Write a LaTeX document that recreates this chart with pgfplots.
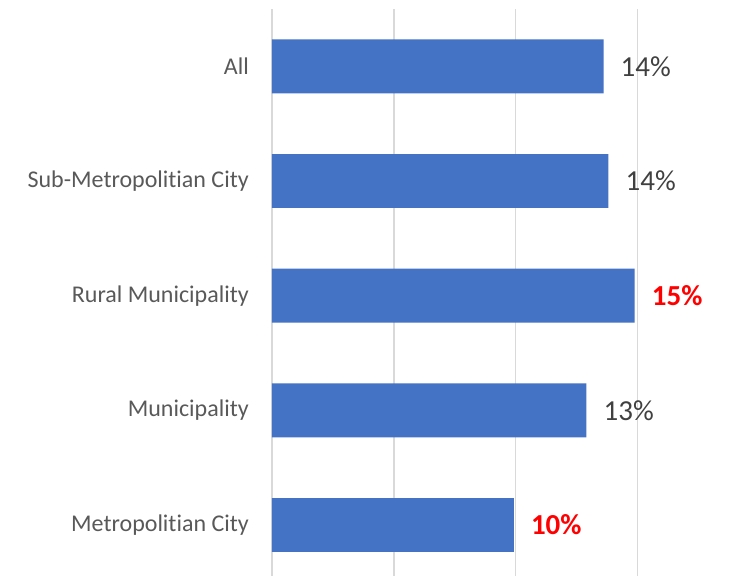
\documentclass[border=0pt]{standalone}
\usepackage{pgfplots}
\pgfplotsset{compat=1.18}
\usepackage{fontspec}
\setmainfont{Carlito}[Ligatures=NoCommon]
\definecolor{barblue}{HTML}{4472C4}
\definecolor{gridgray}{HTML}{D9D9D9}
\definecolor{catgray}{HTML}{595959}
\definecolor{lblgray}{HTML}{404040}
\begin{document}
\begin{tikzpicture}
\begin{axis}[
  scale only axis,
  width=469pt, height=567pt,
  xmin=0, xmax=19.24,
  ymin=-0.445, ymax=4.5,
  axis line style={draw=none},
  xtick={0,5,10,15}, xticklabels={},
  xmajorgrids, grid style={gridgray, line width=1.3pt},
  ytick={0,1,2,3,4},
  yticklabels={Metropolitian City, Municipality, Rural Municipality, Sub-Metropolitian City, All},
  major tick length=0pt,
  tick style={draw=none},
  yticklabel style={font=\fontsize{24}{28}\selectfont, text=catgray, inner sep=0pt, anchor=east, xshift=-23pt},
  xbar, bar width=0.47, bar shift=0pt,
  point meta=explicit symbolic,
  nodes near coords,
  clip=false,
]
\addplot[fill=barblue, draw=none,
  nodes near coords style={font=\fontsize{29}{33}\selectfont, text=lblgray, anchor=west, inner sep=0pt, xshift=17pt}]
  coordinates {(13.6,4) [14\%] (13.8,3) [14\%] (12.9,1) [13\%]};
\addplot[fill=barblue, draw=none,
  nodes near coords style={font=\fontsize{29}{33}\selectfont\bfseries, text=red, anchor=west, inner sep=0pt, xshift=17pt}]
  coordinates {(14.88,2) [15\%] (9.92,0) [10\%]};
\end{axis}
\pgfresetboundingbox
\path (current axis.south west) ++(-272pt,0pt) coordinate (bl);
\path (current axis.north east) ++(0pt,9pt) coordinate (tr);
\path[use as bounding box] (bl) rectangle (tr);
\end{tikzpicture}
\end{document}
